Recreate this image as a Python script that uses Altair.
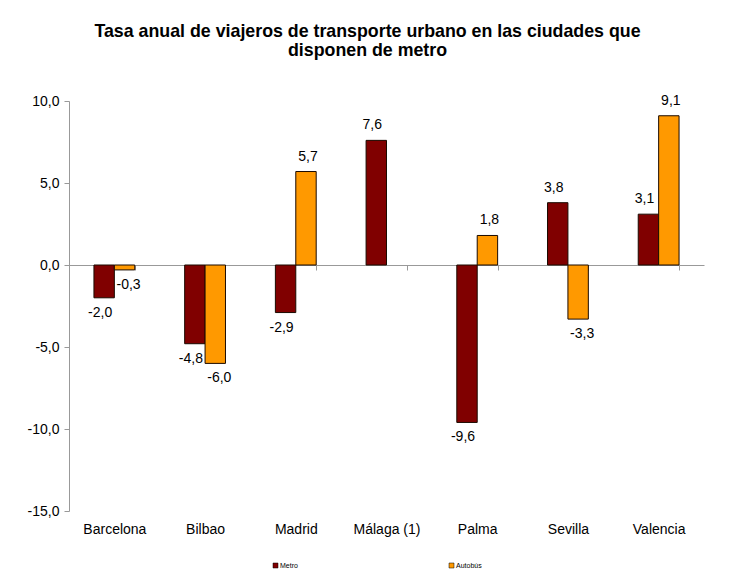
import altair as alt
import pandas as pd

cities = ["Barcelona", "Bilbao", "Madrid", "Málaga (1)", "Palma", "Sevilla", "Valencia"]
series = ["Metro", "Autobús"]
metro = [-2.0, -4.8, -2.9, 7.6, -9.6, 3.8, 3.1]
autobus = [-0.3, -6.0, 5.7, None, 1.8, -3.3, 9.1]
colors = ["#800000", "#FF9900"]
y_ticks = [-15, -10, -5, 0, 5, 10]
title_lines = ["Tasa anual de viajeros de transporte urbano en las ciudades que",
               "disponen de metro"]

rows = []
for c, m, a in zip(cities, metro, autobus):
    rows.append({"city": c, "series": "Metro", "value": m})
    if a is not None:
        rows.append({"city": c, "series": "Autobús", "value": a})
df = pd.DataFrame(rows)

FONT = "Liberation Sans"
fmt = "replace(replace(format(datum.value, '.1f'), '.', ','), '\u2212', '-')"

x_scale = alt.Scale(paddingInner=0.55, paddingOuter=0.275)
x_enc = alt.X("city:N", sort=cities, title=None, scale=x_scale,
              axis=alt.Axis(orient="bottom", offset=-246, labelAngle=0,
                            labelFontSize=14, labelFont=FONT,
                            labelColor="#000000", domainColor="#999999",
                            tickColor="#999999", tickSize=5, tickBand="extent",
                            labelPadding=252, labelBaseline="top"))
xo_enc = alt.XOffset("series:N", sort=series,
                     scale=alt.Scale(paddingInner=0, paddingOuter=0))
y_enc = alt.Y("value:Q", title=None,
              scale=alt.Scale(domain=[-15, 10], nice=False, zero=False),
              axis=alt.Axis(values=y_ticks, labelExpr=fmt, grid=False,
                            domainColor="#999999", tickColor="#999999",
                            tickSize=5, labelPadding=5, labelFontSize=14,
                            labelFont=FONT, labelColor="#000000"))

bars = alt.Chart(df).mark_bar(stroke="#1a0a00", strokeWidth=1).encode(
    x=x_enc,
    xOffset=xo_enc,
    y=y_enc,
    color=alt.Color("series:N", sort=series,
                    scale=alt.Scale(domain=series, range=colors),
                    legend=alt.Legend(orient="none", legendX=203, legendY=461,
                                      direction="horizontal", title=None,
                                      labelFontSize=7, labelFont=FONT,
                                      symbolType="square", symbolSize=25,
                                      symbolStrokeColor="#000000",
                                      symbolStrokeWidth=0.5, labelOffset=1,
                                      columnPadding=150)),
)

label_base = alt.Chart(df).transform_calculate(
    label="replace(replace(format(datum.value, '.1f'), '.', ','), '\u2212', '-')"
).encode(
    x=alt.X("city:N", sort=cities),
    xOffset=alt.XOffset("series:N", sort=series),
    y=alt.Y("value:Q"),
    text="label:N",
)

def labels(cond, dy, dx):
    return label_base.transform_filter(cond).mark_text(
        dy=dy, dx=dx, baseline="middle", fontSize=14, font=FONT, color="#000000")

layers = [
    labels("datum.value >= 0 && datum.series == 'Metro'", -15, -4),
    labels("datum.value < 0 && datum.series == 'Metro'", 15, -4),
    labels("datum.value >= 0 && datum.series != 'Metro'", -15, 2),
    labels("datum.value < 0 && datum.series != 'Metro'", 15, 4),
]

chart = alt.layer(bars, *layers).properties(
    width=635, height=410,
    autosize=alt.AutoSizeParams(type="none"),
    padding={"left": 61, "top": 93, "right": 38, "bottom": 61},
    title=alt.TitleParams(text=title_lines, fontSize=17.8, font=FONT,
                          fontWeight="bold", color="#000000", anchor="middle",
                          offset=34, dx=-19, lineHeight=19),
).configure_view(stroke=None)

chart.save("out.html", embed_options={"renderer": "svg", "actions": False})
